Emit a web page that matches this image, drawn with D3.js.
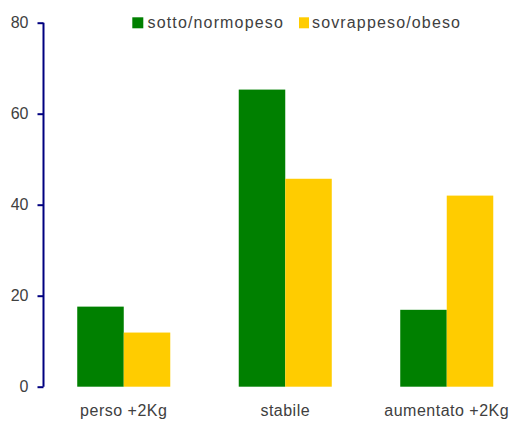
<!DOCTYPE html>
<html><head><meta charset="utf-8">
<script src="https://cdn.jsdelivr.net/npm/d3@7"></script>
<style>body{margin:0;background:#fff}svg{display:block}</style>
</head><body>
<script>
const categories = ["perso +2Kg", "stabile", "aumentato +2Kg"];
const seriesNames = ["sotto/normopeso", "sovrappeso/obeso"];
const sottoNormopeso = [17.6, 65.3, 16.9];
const sovrappesoObeso = [11.9, 45.7, 42.0];
const yTicks = [0, 20, 40, 60, 80];
const colors = ["#008000", "#FFCC00"];

const W = 511, H = 421;
const svg = d3.select("body").append("svg").attr("width", W).attr("height", H);
const font = "'Liberation Sans', Arial, sans-serif";
const textColor = "#404040";

const y = d3.scaleLinear().domain([0, 80]).range([386.7, 22.7]);
const x = d3.scaleBand().domain(categories).range([43, 527.5]).paddingInner(0.424).paddingOuter(0.212);
const xs = d3.scaleBand().domain(seriesNames).range([0, x.bandwidth()]);

const data = categories.map((c, i) => ({c, vals: [sottoNormopeso[i], sovrappesoObeso[i]]}));

const g = svg.append("g");
g.selectAll("g.grp").data(data).join("g")
  .attr("transform", d => `translate(${x(d.c)},0)`)
  .selectAll("rect").data(d => d.vals.map((v, j) => ({v, s: seriesNames[j], j})))
  .join("rect")
  .attr("x", d => xs(d.s))
  .attr("width", xs.bandwidth())
  .attr("y", d => y(d.v))
  .attr("height", d => y(0) - y(d.v))
  .attr("fill", d => colors[d.j]);

// y axis
const yAxis = d3.axisLeft(y).tickValues(yTicks).tickSize(6).tickPadding(9);
const ya = svg.append("g").attr("transform", "translate(43.5,0)").call(yAxis);
ya.select(".domain").attr("stroke", "#000080").attr("stroke-width", 2).attr("d", `M0,${y(80)}V${y(0)}`);
ya.selectAll(".tick line").attr("stroke", "#000080").attr("stroke-width", 2);
ya.selectAll(".tick text").attr("font-family", font).attr("font-size", 16).attr("fill", textColor);

// x labels
const xAxis = d3.axisBottom(x).tickSize(0).tickPadding(18);
const xa = svg.append("g").attr("transform", `translate(0,${y(0)})`).call(xAxis);
xa.select(".domain").remove();
xa.selectAll(".tick text").attr("font-family", font).attr("font-size", 16)
  .attr("letter-spacing", 0.5).attr("fill", textColor);

// legend
const legX = [132.3, 299];
const legW = [11, 10];
const legTextX = [147.5, 312];
const leg = svg.append("g");
seriesNames.forEach((s, i) => {
  leg.append("rect").attr("x", legX[i]).attr("y", 17.3).attr("width", legW[i]).attr("height", 11).attr("fill", colors[i]);
  leg.append("text").attr("x", legTextX[i]).attr("y", 28.3)
    .attr("font-family", font).attr("font-size", 16).attr("letter-spacing", 1.15)
    .attr("fill", textColor).text(s);
});
</script>
</body></html>
